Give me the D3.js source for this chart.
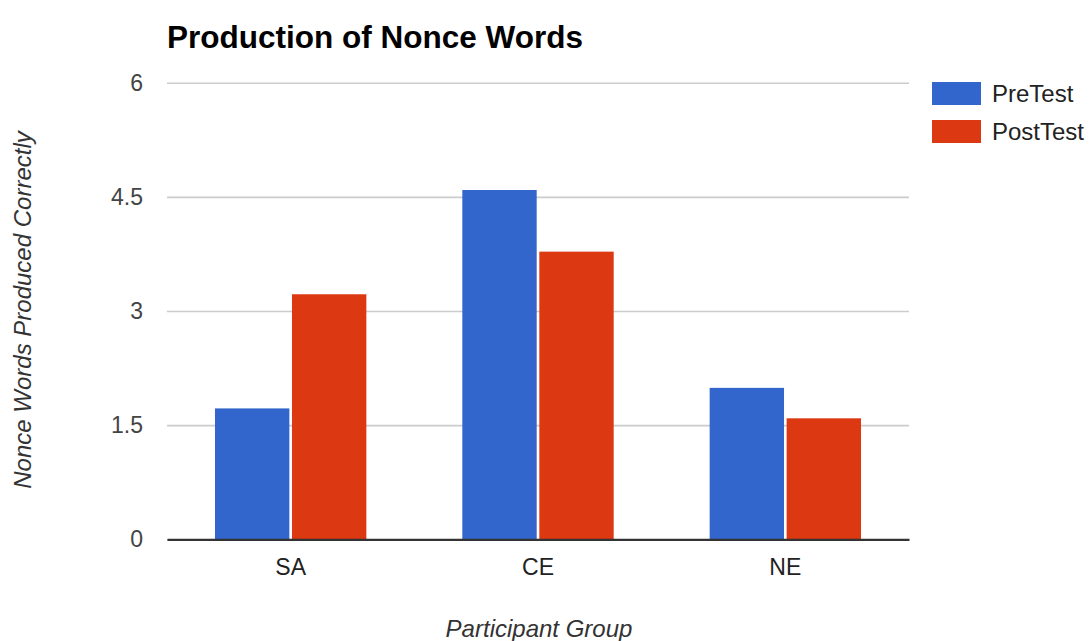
<!DOCTYPE html>
<html>
<head>
<meta charset="utf-8">
<script src="https://cdn.jsdelivr.net/npm/d3@7"></script>
<style>
  html, body { margin: 0; padding: 0; background: #fff; }
  svg { display: block; font-family: "Liberation Sans", Arial, sans-serif; }
</style>
</head>
<body>
<svg id="chart" width="1090" height="641"></svg>
<script>
// Mean nonce words produced correctly, by participant group and test
const groups = ["SA", "CE", "NE"];
const seriesNames = ["PreTest", "PostTest"];
const preTest = [1.72, 4.59, 1.99];
const postTest = [3.22, 3.78, 1.59];
const yTicks = [0, 1.5, 3, 4.5, 6];
const colors = ["#3366cc", "#dc3912"];

const svg = d3.select("#chart");
const plot = { left: 167, right: 909, top: 82.7, bottom: 539.3 };

const x0 = d3.scaleBand()
  .domain(groups)
  .range([plot.left, plot.right])
  .paddingInner(0.388)
  .paddingOuter(0.194);

const x1 = d3.scaleBand()
  .domain(seriesNames)
  .range([0, x0.bandwidth()])
  .paddingInner(0.034);

const y = d3.scaleLinear().domain([0, 6]).range([plot.bottom, plot.top]);

// Horizontal gridlines with value labels
const yAxis = d3.axisLeft(y)
  .tickValues(yTicks)
  .tickSize(-(plot.right - plot.left))
  .tickPadding(24)
  .tickFormat(d3.format(""));

const gy = svg.append("g")
  .attr("transform", `translate(${plot.left},0)`)
  .call(yAxis);
gy.select(".domain").remove();
gy.selectAll(".tick line").attr("stroke", "#cccccc").attr("stroke-width", 1.6);
gy.selectAll(".tick text")
  .attr("fill", "#444")
  .style("font-size", "23px");

// Grouped bars
const rows = groups.map((g, i) => ({ group: g, values: [preTest[i], postTest[i]] }));

svg.append("g")
  .selectAll("g")
  .data(rows)
  .join("g")
  .attr("transform", d => `translate(${x0(d.group)},0)`)
  .selectAll("rect")
  .data(d => d.values.map((v, k) => ({ key: seriesNames[k], value: v, k })))
  .join("rect")
  .attr("x", d => x1(d.key))
  .attr("width", x1.bandwidth())
  .attr("y", d => y(d.value))
  .attr("height", d => y(0) - y(d.value))
  .attr("fill", d => colors[d.k]);

// Baseline and category labels
const xAxis = d3.axisBottom(x0).tickSize(0).tickPadding(19);
const gx = svg.append("g")
  .attr("transform", `translate(0,${y(0)})`)
  .call(xAxis);
gx.select(".domain").attr("stroke", "#333").attr("stroke-width", 2.2);
gx.selectAll(".tick text")
  .attr("fill", "#222")
  .style("font-size", "23px");

// Title
svg.append("text")
  .attr("x", plot.left)
  .attr("y", 48)
  .attr("fill", "#000")
  .style("font-size", "31.5px")
  .style("font-weight", "bold")
  .text("Production of Nonce Words");

// Axis titles
svg.append("text")
  .attr("transform", `translate(31,${(plot.top + plot.bottom) / 2 - 1}) rotate(-90)`)
  .attr("text-anchor", "middle")
  .attr("fill", "#333")
  .style("font-size", "24px")
  .style("font-style", "italic")
  .text("Nonce Words Produced Correctly");

svg.append("text")
  .attr("x", (plot.left + plot.right) / 2 + 1)
  .attr("y", 637)
  .attr("text-anchor", "middle")
  .attr("fill", "#333")
  .style("font-size", "24px")
  .style("font-style", "italic")
  .text("Participant Group");

// Legend
const legend = svg.append("g").attr("transform", "translate(932,82)");
const items = legend.selectAll("g")
  .data(seriesNames)
  .join("g")
  .attr("transform", (d, i) => `translate(0,${i * 38})`);
items.append("rect")
  .attr("width", 49)
  .attr("height", 23)
  .attr("fill", (d, i) => colors[i]);
items.append("text")
  .attr("x", 60)
  .attr("y", 20)
  .attr("fill", "#222")
  .style("font-size", "24px")
  .text(d => d);
</script>
</body>
</html>
